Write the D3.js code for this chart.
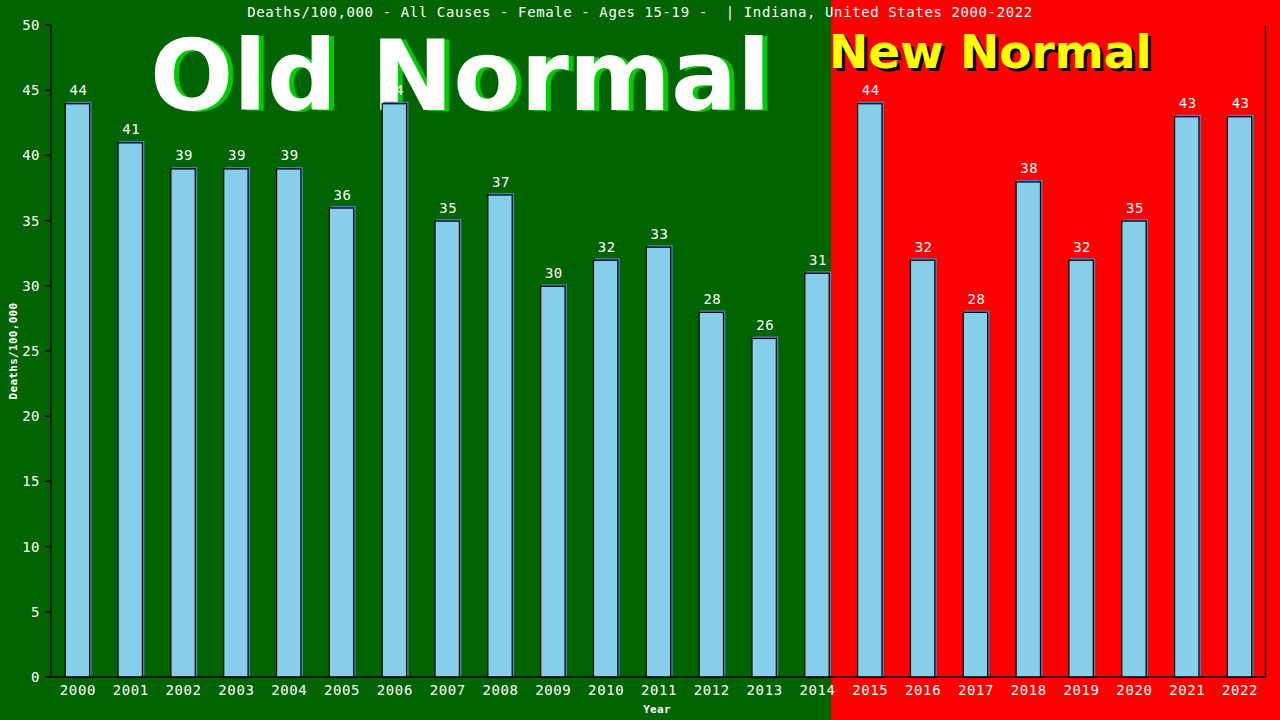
<!DOCTYPE html>
<html><head><meta charset="utf-8">
<script src="https://cdn.jsdelivr.net/npm/d3@7/dist/d3.min.js"></script>
<style>html,body{margin:0;padding:0;background:#006400;}svg{display:block;}</style>
</head><body>
<svg id="c" width="1280" height="720"></svg>
<script>
const years = ["2000","2001","2002","2003","2004","2005","2006","2007","2008","2009","2010","2011","2012","2013","2014","2015","2016","2017","2018","2019","2020","2021","2022"];
const values = [44,41,39,39,39,36,44,35,37,30,32,33,28,26,31,44,32,28,38,32,35,43,43];
const yTicks = [0,5,10,15,20,25,30,35,40,45,50];
const titleText = "Deaths/100,000 - All Causes - Female - Ages 15-19 -  | Indiana, United States 2000-2022";
const lastOldYear = "2014";

const svg = d3.select("#c");
const W = 1280, H = 720;
const pLeft = 51, pRight = 1266, pTop = 25, pBottom = 677;
const mono = "'DejaVu Sans Mono', monospace";

const x = d3.scaleBand().domain(years).range([pLeft, pRight]).paddingInner(0.52).paddingOuter(0.26);
const y = d3.scaleLinear().domain([0, 50]).range([pBottom, pTop]);

// backgrounds
const splitX = x(lastOldYear) + x.bandwidth() + 1.5;
svg.append("rect").attr("x", 0).attr("y", 0).attr("width", splitX).attr("height", H).attr("fill", "#006400");
svg.append("rect").attr("x", splitX).attr("y", 0).attr("width", W - splitX).attr("height", H).attr("fill", "#ff0000");

// big labels
const bold = "'DejaVu Sans', Verdana, sans-serif";
svg.append("text").attr("x", 155).attr("y", 111).attr("font-family", bold).attr("font-weight", "bold")
  .attr("font-size", 98).attr("fill", "#00cc00").text("Old Normal");
svg.append("text").attr("x", 150).attr("y", 110).attr("font-family", bold).attr("font-weight", "bold")
  .attr("font-size", 98).attr("fill", "#ffffff").text("Old Normal");
svg.append("text").attr("x", 832).attr("y", 71).attr("font-family", bold).attr("font-weight", "bold")
  .attr("font-size", 47).attr("fill", "#000000").text("New Normal");
svg.append("text").attr("x", 829).attr("y", 68).attr("font-family", bold).attr("font-weight", "bold")
  .attr("font-size", 47).attr("fill", "#ffff00").text("New Normal");

// title
svg.append("text").attr("x", 640).attr("y", 17).attr("text-anchor", "middle")
  .attr("font-family", mono).attr("font-size", 14).attr("letter-spacing", 0.6)
  .attr("fill", "#fff").style("white-space", "pre").text(titleText);

// bars
const g = svg.append("g");
g.selectAll("rect.sh").data(values).join("rect").attr("class", "sh")
  .attr("x", (d, i) => x(years[i]) + 1.5).attr("y", d => y(d) - 1.5)
  .attr("width", x.bandwidth()).attr("height", d => pBottom - y(d) + 1.5)
  .attr("fill", "#4682b4");
g.selectAll("rect.bar").data(values).join("rect").attr("class", "bar")
  .attr("x", (d, i) => x(years[i]) + 0.5).attr("y", d => y(d) + 0.5)
  .attr("width", x.bandwidth() - 1).attr("height", d => pBottom - y(d))
  .attr("fill", "#87ceeb").attr("stroke", "#000").attr("stroke-width", 1.2);
g.selectAll("text.val").data(values).join("text").attr("class", "val")
  .attr("x", (d, i) => x(years[i]) + x.bandwidth() / 2 + 1).attr("y", d => y(d) - 8)
  .attr("text-anchor", "middle").attr("font-family", mono).attr("font-size", 14).attr("letter-spacing", 0.5)
  .attr("fill", "#fff").text(d => d);

// axes
const ax = svg.append("g").attr("stroke", "#000").attr("stroke-width", 1.3);
ax.append("line").attr("x1", pLeft).attr("x2", pLeft).attr("y1", pTop).attr("y2", pBottom);
ax.append("line").attr("x1", pRight - 0.5).attr("x2", pRight - 0.5).attr("y1", pTop).attr("y2", pBottom);
ax.append("line").attr("x1", 46).attr("x2", pRight).attr("y1", pBottom).attr("y2", pBottom);
ax.selectAll("line.t").data(yTicks).join("line").attr("class", "t")
  .attr("x1", 45).attr("x2", pLeft).attr("y1", d => y(d)).attr("y2", d => y(d));

svg.selectAll("text.yt").data(yTicks).join("text").attr("class", "yt")
  .attr("x", 40).attr("y", d => y(d) + 5).attr("text-anchor", "end")
  .attr("font-family", mono).attr("font-size", 14).attr("letter-spacing", 0.5).attr("fill", "#fff").text(d => d);
svg.selectAll("text.xt").data(years).join("text").attr("class", "xt")
  .attr("x", d => x(d) + x.bandwidth() / 2 + 0.5).attr("y", 695).attr("text-anchor", "middle")
  .attr("font-family", mono).attr("font-size", 14).attr("letter-spacing", 0.6).attr("fill", "#fff").text(d => d);

svg.append("text").attr("transform", "translate(16.5,351) rotate(-90)").attr("text-anchor", "middle")
  .attr("font-family", mono).attr("font-weight", "bold").attr("font-size", 11).attr("letter-spacing", 0.3)
  .attr("fill", "#fff").text("Deaths/100,000");
svg.append("text").attr("x", 657).attr("y", 713).attr("text-anchor", "middle")
  .attr("font-family", mono).attr("font-weight", "bold").attr("font-size", 11).attr("letter-spacing", 0.3)
  .attr("fill", "#fff").text("Year");
</script>
</body></html>
